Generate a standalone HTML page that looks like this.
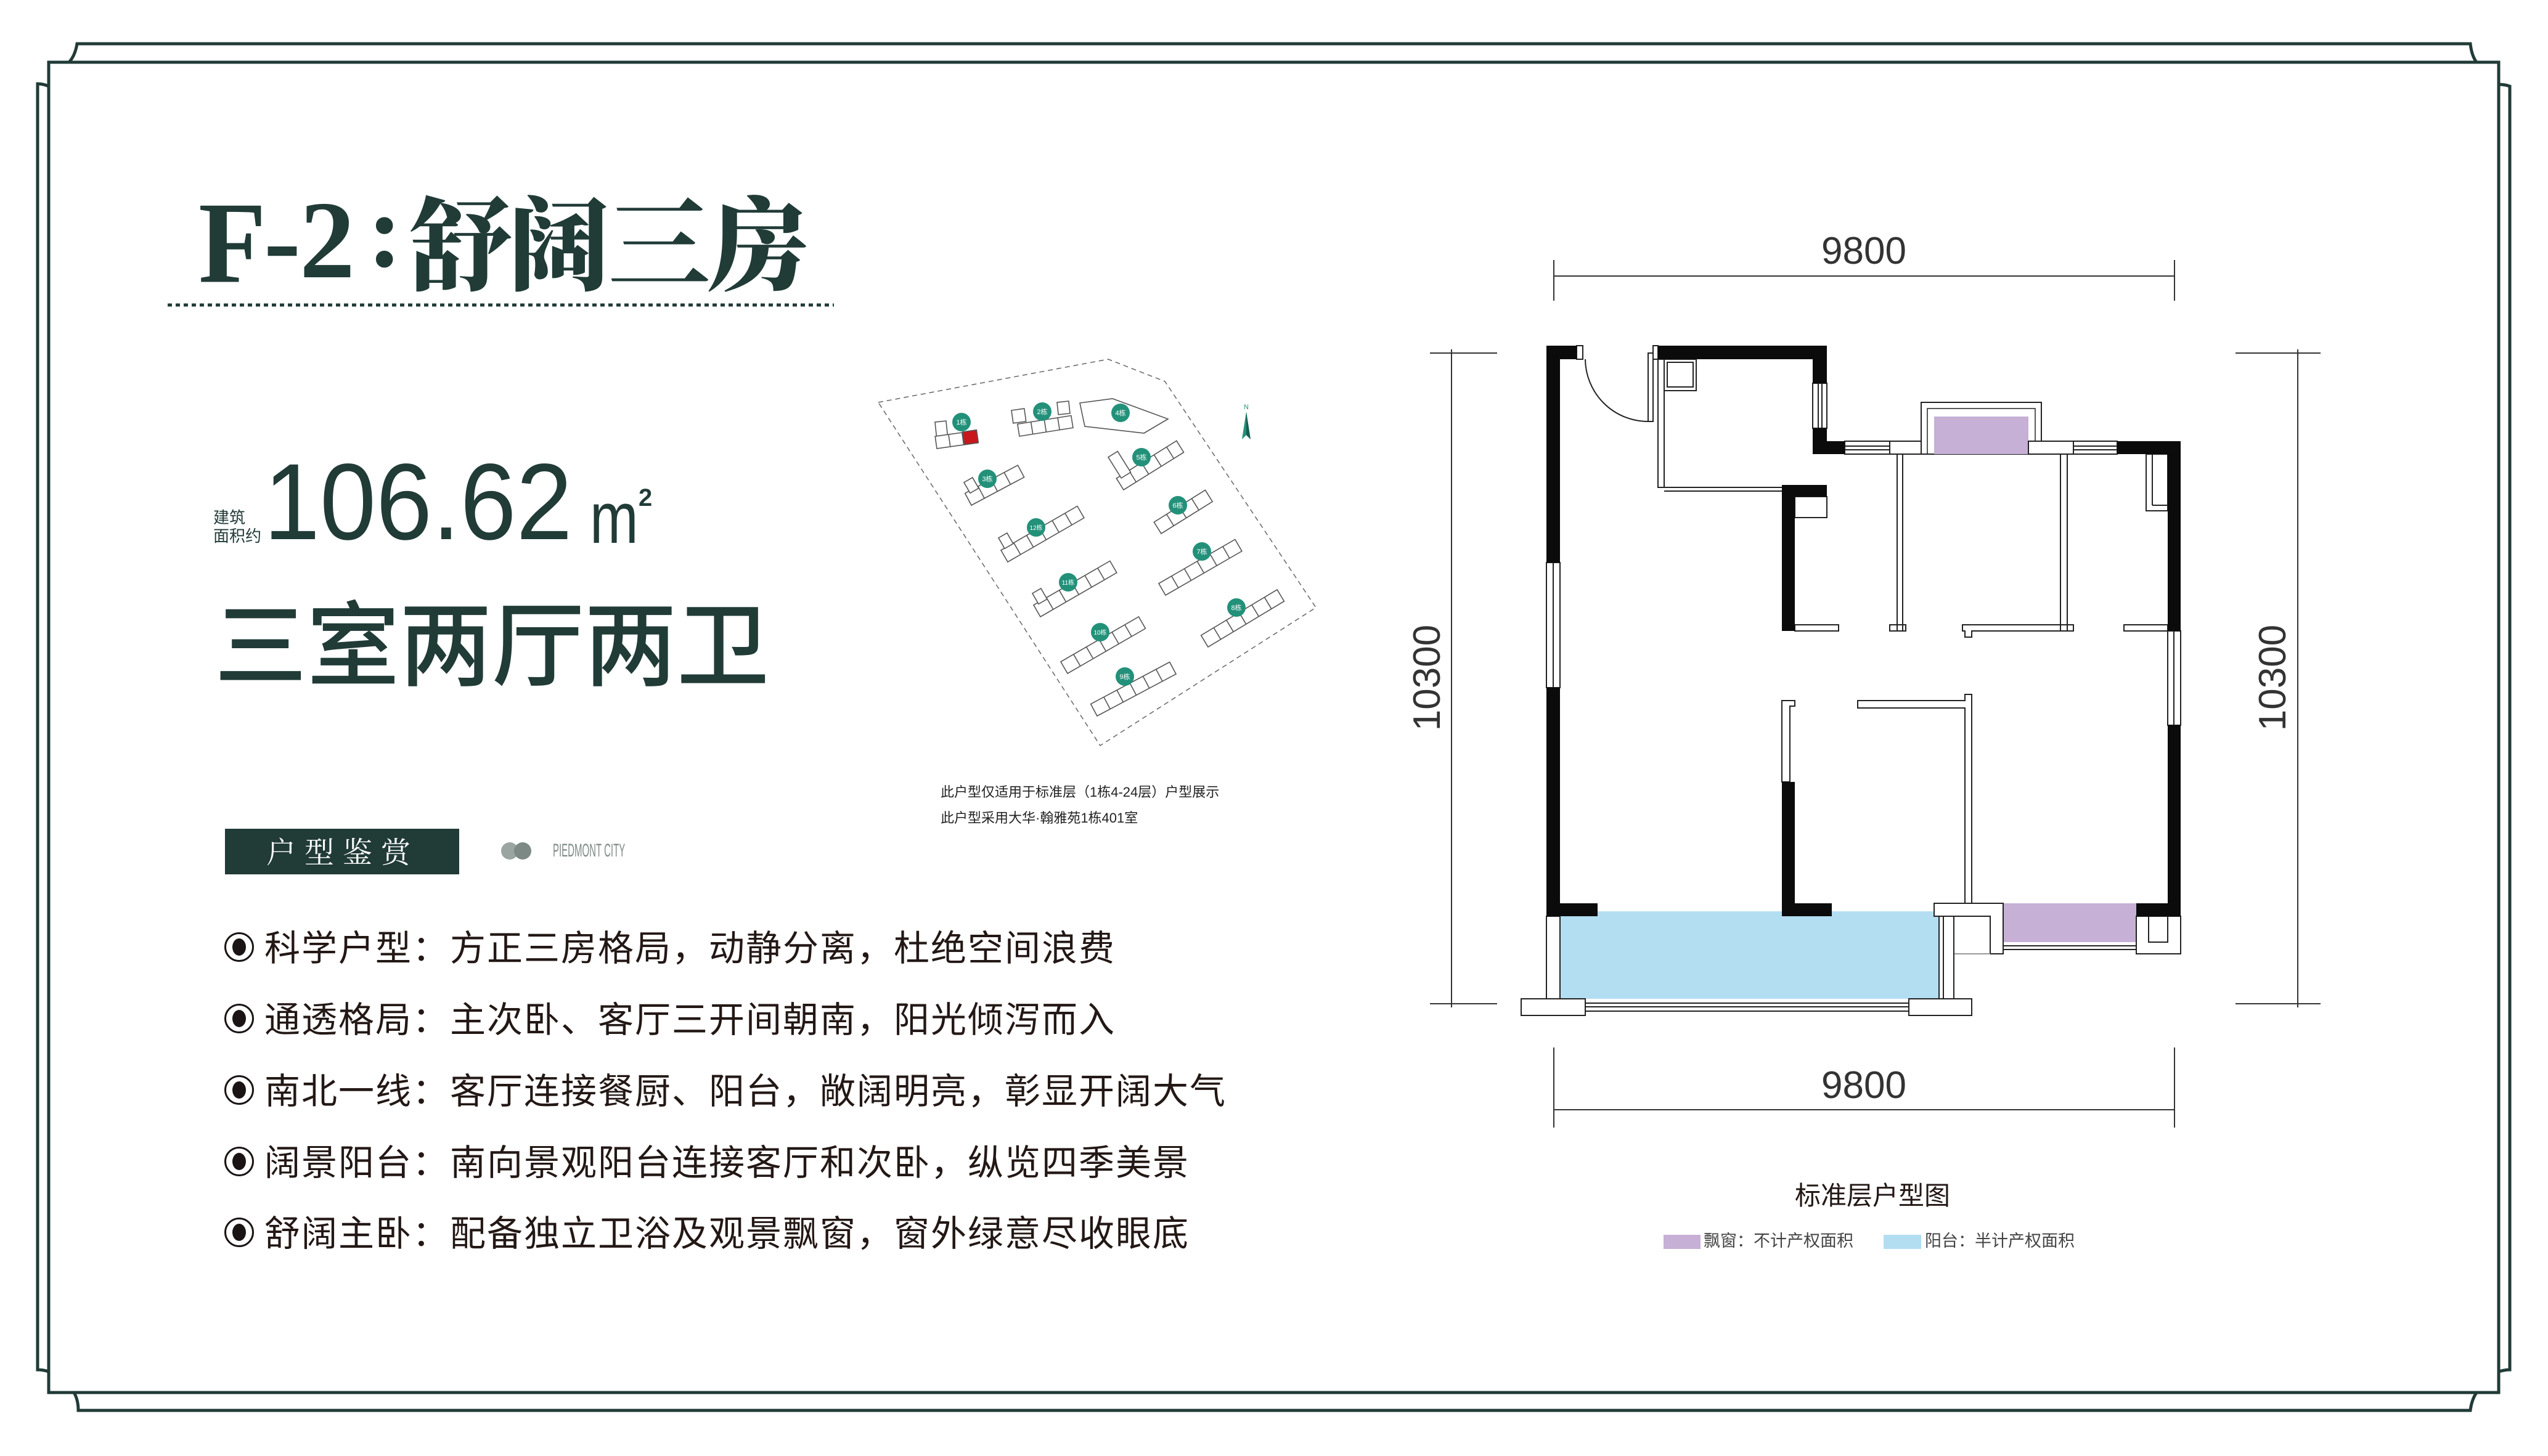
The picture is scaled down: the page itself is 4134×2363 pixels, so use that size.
<!DOCTYPE html>
<html><head><meta charset="utf-8">
<style>
html,body{margin:0;padding:0;background:#fff;}
#p{position:relative;width:4134px;height:2363px;overflow:hidden;background:#fff;font-family:"Liberation Sans","Noto Sans CJK SC",sans-serif;}
.a{position:absolute;white-space:nowrap;line-height:1;}
.t{color:#213b37;font-family:"Noto Serif CJK SC",serif;font-weight:900;font-size:165px;}
.bl{position:absolute;left:364px;width:1700px;height:60px;}
.bl .c{position:absolute;left:0;top:5px;width:42px;height:42px;border:3px solid #1a1414;border-radius:50%;}
.bl .c i{position:absolute;left:10px;top:7px;width:22px;height:28px;background:#1a1414;border-radius:50%;}
.bl span{position:absolute;left:65px;top:-16px;font-size:58px;color:#231815;font-family:"Liberation Sans","Noto Sans CJK SC",sans-serif;letter-spacing:2px;}
.bl b{font-weight:400;display:inline-block;width:301px;}
</style></head><body><div id="p">
<svg width="4134" height="2363" style="position:absolute;left:0;top:0" xmlns="http://www.w3.org/2000/svg">
<g fill="none" stroke="#213b37" stroke-width="5">
<rect x="79" y="101" width="3975" height="2159"/>
<path d="M79 140 Q70 136 61 136 V2223 Q70 2223 79 2226"/>
<path d="M112 101 Q122 90 125 71 H4008 Q4010 90 4018 101"/>
<path d="M4054 137 Q4064 137 4072 140 V2223 Q4064 2223 4054 2226"/>
<path d="M120 2260 Q127 2272 127 2289 H4008 Q4010 2272 4018 2260"/>
</g>
<line x1="272" y1="495" x2="1353" y2="495" stroke="#213b37" stroke-width="5" stroke-dasharray="7 6"/>
<rect x="365" y="1345" width="380" height="74" fill="#213b37"/>
<circle cx="827" cy="1381" r="14" fill="#9aa5a1"/><circle cx="848" cy="1381" r="14" fill="#7d8985"/>
<polygon points="1425,653 1798,583 1890,619 2135,986 1785,1210" fill="none" stroke="#666" stroke-width="1.5" stroke-dasharray="8 6"/>
<g fill="#fff" stroke="#555" stroke-width="1.6">
<polygon points="1752,654 1805,647 1895,680 1856,703 1760,692"/>
<rect x="1517" y="685" width="18" height="23" transform="rotate(-6 1517 685)"/>
<rect x="1641" y="666" width="21" height="21" transform="rotate(-8 1641 666)"/>
<rect x="1715" y="653" width="19" height="20" transform="rotate(-6 1715 653)"/>
<g transform="translate(1520,728) rotate(-8)"><rect x="0" y="-20" width="67" height="20"/><line x1="22" y1="-20" x2="22" y2="0"/><line x1="44" y1="-20" x2="44" y2="0"/><rect x="45" y="-21" width="23" height="21" fill="#c8161d"/></g>
<g transform="translate(1654,708) rotate(-9)"><rect x="0" y="-20" width="88" height="20"/><line x1="22" y1="-20" x2="22" y2="0"/><line x1="44" y1="-20" x2="44" y2="0"/><line x1="66" y1="-20" x2="66" y2="0"/></g>
<g transform="translate(1576,820) rotate(-28)"><rect x="0" y="-22" width="97" height="22"/><line x1="24" y1="-22" x2="24" y2="0"/><line x1="48" y1="-22" x2="48" y2="0"/><line x1="72" y1="-22" x2="72" y2="0"/></g>
<g transform="translate(1635,912) rotate(-30)"><rect x="0" y="-22" width="143" height="22"/><line x1="24" y1="-22" x2="24" y2="0"/><line x1="48" y1="-22" x2="48" y2="0"/><line x1="72" y1="-22" x2="72" y2="0"/><line x1="96" y1="-22" x2="96" y2="0"/><line x1="120" y1="-22" x2="120" y2="0"/></g>
<g transform="translate(1688,1001) rotate(-30)"><rect x="0" y="-22" width="143" height="22"/><line x1="24" y1="-22" x2="24" y2="0"/><line x1="48" y1="-22" x2="48" y2="0"/><line x1="72" y1="-22" x2="72" y2="0"/><line x1="96" y1="-22" x2="96" y2="0"/><line x1="120" y1="-22" x2="120" y2="0"/></g>
<g transform="translate(1732,1093) rotate(-30)"><rect x="0" y="-22" width="146" height="22"/><line x1="24" y1="-22" x2="24" y2="0"/><line x1="48" y1="-22" x2="48" y2="0"/><line x1="72" y1="-22" x2="72" y2="0"/><line x1="96" y1="-22" x2="96" y2="0"/><line x1="120" y1="-22" x2="120" y2="0"/></g>
<g transform="translate(1780,1162) rotate(-28)"><rect x="0" y="-22" width="145" height="22"/><line x1="24" y1="-22" x2="24" y2="0"/><line x1="48" y1="-22" x2="48" y2="0"/><line x1="72" y1="-22" x2="72" y2="0"/><line x1="96" y1="-22" x2="96" y2="0"/><line x1="120" y1="-22" x2="120" y2="0"/></g>
<g transform="translate(1823,795) rotate(-32)"><rect x="0" y="-22" width="115" height="22"/><line x1="24" y1="-22" x2="24" y2="0"/><line x1="48" y1="-22" x2="48" y2="0"/><line x1="72" y1="-22" x2="72" y2="0"/><line x1="96" y1="-22" x2="96" y2="0"/></g>
<rect x="1798" y="742" width="18" height="40" transform="rotate(-32 1798 742)"/>
<g transform="translate(1884,866) rotate(-32)"><rect x="0" y="-22" width="98" height="22"/><line x1="24" y1="-22" x2="24" y2="0"/><line x1="48" y1="-22" x2="48" y2="0"/><line x1="72" y1="-22" x2="72" y2="0"/></g>
<g transform="translate(1891,966) rotate(-30)"><rect x="0" y="-22" width="143" height="22"/><line x1="24" y1="-22" x2="24" y2="0"/><line x1="48" y1="-22" x2="48" y2="0"/><line x1="72" y1="-22" x2="72" y2="0"/><line x1="96" y1="-22" x2="96" y2="0"/><line x1="120" y1="-22" x2="120" y2="0"/></g>
<g transform="translate(1960,1050) rotate(-31)"><rect x="0" y="-22" width="144" height="22"/><line x1="24" y1="-22" x2="24" y2="0"/><line x1="48" y1="-22" x2="48" y2="0"/><line x1="72" y1="-22" x2="72" y2="0"/><line x1="96" y1="-22" x2="96" y2="0"/><line x1="120" y1="-22" x2="120" y2="0"/></g>
<rect x="1564" y="783" width="16" height="20" transform="rotate(-30 1564 783)"/>
<rect x="1620" y="873" width="16" height="20" transform="rotate(-30 1620 873)"/>
<rect x="1675" y="963" width="16" height="20" transform="rotate(-30 1675 963)"/>
</g>
<g fill="#23917a">
<circle cx="1560" cy="685" r="15"/><circle cx="1691" cy="668" r="15"/><circle cx="1818" cy="670" r="15"/><circle cx="1852" cy="742" r="15"/><circle cx="1602" cy="777" r="15"/><circle cx="1911" cy="820" r="15"/><circle cx="1681" cy="856" r="15"/><circle cx="1950" cy="895" r="15"/><circle cx="1733" cy="945" r="15"/><circle cx="2006" cy="986" r="15"/><circle cx="1785" cy="1026" r="15"/><circle cx="1825" cy="1098" r="15"/>
</g>
<g fill="#fff" font-size="11" text-anchor="middle" font-family="Liberation Sans,Noto Sans CJK SC,sans-serif">
<text x="1560" y="689">1栋</text><text x="1691" y="672">2栋</text><text x="1818" y="674">4栋</text><text x="1852" y="746">5栋</text><text x="1602" y="781">3栋</text><text x="1911" y="824">6栋</text><text x="1681" y="860" font-size="10">12栋</text><text x="1950" y="899">7栋</text><text x="1733" y="949" font-size="10">11栋</text><text x="2006" y="990">8栋</text><text x="1785" y="1030" font-size="10">10栋</text><text x="1825" y="1102">9栋</text>
</g>
<text x="2022" y="664" font-size="11" fill="#23917a" text-anchor="middle" font-family="Liberation Sans,sans-serif">N</text>
<polygon points="2022,668 2029,713 2022,706 2015,713" fill="#23917a"/><polygon points="2022,668 2029,713 2022,706" fill="#165e4f"/>
<g stroke="#333" stroke-width="2" fill="none">
<line x1="2521" y1="448" x2="3528" y2="448"/><line x1="2521" y1="422" x2="2521" y2="488"/><line x1="3528" y1="422" x2="3528" y2="488"/>
<line x1="2521" y1="1801" x2="3528" y2="1801"/><line x1="2521" y1="1700" x2="2521" y2="1830"/><line x1="3528" y1="1700" x2="3528" y2="1830"/>
<line x1="2355" y1="567" x2="2355" y2="1635"/><line x1="2320" y1="573" x2="2429" y2="573"/><line x1="2320" y1="1629" x2="2429" y2="1629"/>
<line x1="3728" y1="567" x2="3728" y2="1635"/><line x1="3627" y1="573" x2="3765" y2="573"/><line x1="3627" y1="1629" x2="3765" y2="1629"/>
</g>
<g fill="#333" font-size="62" font-family="Liberation Sans,sans-serif" text-anchor="middle">
<text x="3024" y="428">9800</text>
<text x="3024" y="1782">9800</text>
<text transform="translate(2336,1100) rotate(-90)">10300</text>
<text transform="translate(3708,1100) rotate(-90)">10300</text>
</g>
<g>
<rect x="2531" y="1479" width="615" height="142" fill="#b3def2"/>
<rect x="3117" y="653" width="195" height="84" fill="#fff" stroke="#222" stroke-width="2"/>
<rect x="3127" y="663" width="175" height="74" fill="none" stroke="#222" stroke-width="1.5"/>
<rect x="3138" y="676" width="153" height="61" fill="#c6b0d6"/>
<rect x="3250" y="1466" width="216" height="63" fill="#c6b0d6"/>
</g>
<g fill="none" stroke="#222" stroke-width="2">
<rect x="2509" y="913" width="22" height="203"/><line x1="2520" y1="913" x2="2520" y2="1116"/>
<rect x="3517" y="1024" width="21" height="153"/><line x1="3527" y1="1024" x2="3527" y2="1177"/>
<rect x="2558" y="561" width="10" height="22"/>
<rect x="2682" y="561" width="8" height="22"/>
<path d="M2572 583 A102 102 0 0 0 2674 684"/>
<rect x="2674" y="573" width="8" height="111"/>
<rect x="2690" y="583" width="10" height="208"/>
<line x1="2690" y1="791" x2="2891" y2="791"/><line x1="2700" y1="797" x2="2891" y2="797"/>
<rect x="2700" y="583" width="52" height="51"/><rect x="2705" y="588" width="42" height="40"/>
<rect x="2941" y="622" width="23" height="73"/><line x1="2950" y1="622" x2="2950" y2="695"/><line x1="2956" y1="622" x2="2956" y2="695"/>
<rect x="2912" y="806" width="52" height="34"/>
<rect x="2993" y="716" width="73" height="21"/><line x1="2993" y1="724" x2="3066" y2="724"/><line x1="2993" y1="730" x2="3066" y2="730"/>
<rect x="3364" y="716" width="71" height="21"/><line x1="3364" y1="724" x2="3435" y2="724"/><line x1="3364" y1="730" x2="3435" y2="730"/>
<path d="M3066 716 H3117 V737 H3066 Z" fill="#fff"/>
<path d="M3291 716 H3364 V737 H3291 Z" fill="#fff"/>
<rect x="3078" y="737" width="9" height="287"/><rect x="3343" y="737" width="11" height="287"/>
<rect x="2912" y="1014" width="71" height="10"/><rect x="3066" y="1014" width="26" height="10"/>
<path d="M3184 1014 H3364 V1024 H3199 V1034 H3188 V1024 H3184 Z"/><rect x="3446" y="1014" width="71" height="10"/>
<rect x="3482" y="737" width="35" height="92"/><line x1="3492" y1="737" x2="3492" y2="820"/><line x1="3492" y1="820" x2="3517" y2="820"/>
<path d="M2891 1137 H2912 V1146 H2904 V1269 H2891 Z"/>
<path d="M3014 1137 H3188 V1127 H3199 V1466 H3188 V1149 H3014 Z"/>
<path d="M3138 1466 H3250 V1548 H3229 V1487 H3138 Z" fill="#fff"/>
<rect x="3466" y="1487" width="72" height="61" fill="#fff"/><rect x="3486" y="1487" width="31" height="42"/>
<line x1="3250" y1="1535" x2="3466" y2="1535"/><line x1="3250" y1="1541" x2="3466" y2="1541"/>
<line x1="3146" y1="1487" x2="3146" y2="1621"/><line x1="3153" y1="1487" x2="3153" y2="1621"/><line x1="3170" y1="1548" x2="3229" y2="1548" stroke="#999"/><line x1="3170" y1="1487" x2="3170" y2="1621"/>
<rect x="2509" y="1487" width="22" height="134"/>
<rect x="2468" y="1621" width="104" height="27" fill="#fff"/><rect x="3097" y="1621" width="102" height="27" fill="#fff"/>
<line x1="2572" y1="1628" x2="3097" y2="1628"/><line x1="2572" y1="1634" x2="3097" y2="1634"/><line x1="2572" y1="1641" x2="3097" y2="1641"/>
</g>
<g fill="#0b0b0b">
<rect x="2509" y="561" width="22" height="352"/><rect x="2509" y="1116" width="22" height="371"/>
<rect x="2509" y="561" width="49" height="22"/>
<rect x="2690" y="561" width="274" height="22"/>
<rect x="2941" y="561" width="23" height="61"/><rect x="2941" y="695" width="23" height="42"/><rect x="2964" y="716" width="29" height="21"/>
<rect x="2891" y="787" width="73" height="19"/><rect x="2891" y="787" width="21" height="237"/>
<rect x="2891" y="1269" width="21" height="218"/>
<rect x="2509" y="1466" width="83" height="21"/><rect x="2891" y="1466" width="81" height="21"/>
<rect x="3517" y="716" width="21" height="308"/><rect x="3517" y="1177" width="21" height="310"/>
<rect x="3435" y="716" width="103" height="21"/><rect x="3466" y="1466" width="72" height="21"/>
</g>
<rect x="2699" y="2004" width="60" height="23" fill="#c6b0d6"/>
<rect x="3056" y="2004" width="61" height="23" fill="#b3def2"/>
</svg>

<div class="a t" style="left:322px;top:300px;font-family:'Liberation Serif',serif;font-weight:700;font-size:180px;transform:scaleY(1.05);transform-origin:0 0;">F</div>
<div class="a t" style="left:428px;top:300px;font-family:'Liberation Serif',serif;font-weight:700;font-size:180px;">-</div>
<div class="a t" style="left:486px;top:300px;font-family:'Liberation Serif',serif;font-weight:700;font-size:180px;">2</div>
<div class="a t" style="left:596px;top:290px;font-family:'Liberation Serif',serif;font-weight:700;font-size:170px;">:</div>
<div class="a t" style="left:665px;top:305px;letter-spacing:-4px;">舒阔三房</div>

<div class="a" style="left:346px;top:825px;font-size:26px;color:#213b37;line-height:30px;">建筑<br>面积约</div>
<div class="a" style="left:428px;top:727px;font-size:176px;color:#213b37;transform:scaleX(0.93);transform-origin:0 0;">106.62</div>
<div class="a" style="left:957px;top:782px;font-size:118px;color:#213b37;transform:scaleX(0.8);transform-origin:0 0;">m</div>
<div class="a" style="left:1036px;top:788px;font-size:40px;color:#213b37;font-weight:700;">2</div>
<div class="a" style="left:348px;top:962px;font-size:150px;color:#213b37;font-family:'Noto Sans CJK SC',sans-serif;font-weight:500;">三室两厅两卫</div>

<div class="a" style="left:1526px;top:1275px;font-size:22px;color:#222;">此户型仅适用于标准层（1栋4-24层）户型展示</div>
<div class="a" style="left:1526px;top:1317px;font-size:22px;color:#222;">此户型采用大华·翰雅苑1栋401室</div>

<div class="a" style="left:432px;top:1356px;font-size:48px;color:#fff;font-family:'Noto Serif CJK SC',serif;letter-spacing:14px;">户型鉴赏</div>
<div class="a" style="left:897px;top:1366px;font-size:30px;color:#7d8985;transform:scaleX(0.5);transform-origin:0 0;">PIEDMONT CITY</div>

<div class="bl" style="top:1508px;"><div class="c"><i></i></div><span><b>科学户型：</b>方正三房格局，动静分离，杜绝空间浪费</span></div>
<div class="bl" style="top:1624px;"><div class="c"><i></i></div><span><b>通透格局：</b>主次卧、客厅三开间朝南，阳光倾泻而入</span></div>
<div class="bl" style="top:1740px;"><div class="c"><i></i></div><span><b>南北一线：</b>客厅连接餐厨、阳台，敞阔明亮，彰显开阔大气</span></div>
<div class="bl" style="top:1856px;"><div class="c"><i></i></div><span><b>阔景阳台：</b>南向景观阳台连接客厅和次卧，纵览四季美景</span></div>
<div class="bl" style="top:1971px;"><div class="c"><i></i></div><span><b>舒阔主卧：</b>配备独立卫浴及观景飘窗，窗外绿意尽收眼底</span></div>

<div class="a" style="left:2912px;top:1920px;font-size:42px;color:#231815;">标准层户型图</div>
<div class="a" style="left:2764px;top:2001px;font-size:27px;color:#444;">飘窗：不计产权面积</div>
<div class="a" style="left:3123px;top:2001px;font-size:27px;color:#444;">阳台：半计产权面积</div>
</div></body></html>
